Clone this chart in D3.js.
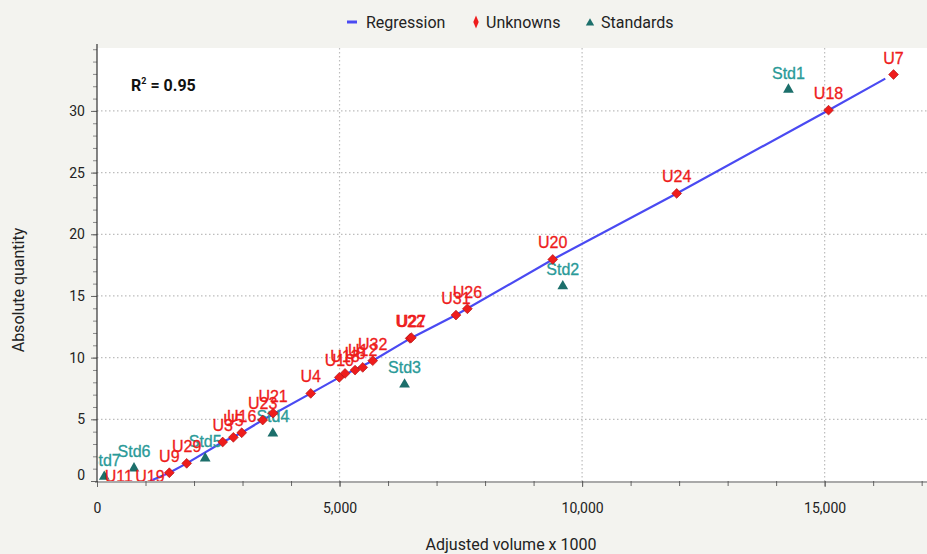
<!DOCTYPE html>
<html><head><meta charset="utf-8">
<script src="https://cdn.jsdelivr.net/npm/d3@7"></script>
<style>
html,body{margin:0;padding:0;background:#f3f3ef;}
svg{display:block;}
</style></head>
<body>
<svg id="chart" width="927" height="554"></svg>
<script>
// ---- data ----
const unkNames = ["U7","U18","U24","U20","U26","U31","U22","U27","U32","U12","U8","U13","U10","U4","U21","U23","U16","U5","U3","U29","U9","U11","U19"];
const unkX = [16420,15080,11950,9395,7635,7400,6455,6480,5684,5478,5320,5113,4995,4406,3630,3416,2983,2811,2591,1849,1491,450,1090];
const unkY = [32.95,30.06,23.31,17.96,13.96,13.45,11.56,11.62,9.75,9.21,8.99,8.72,8.40,7.10,5.50,4.94,3.91,3.54,3.16,1.43,0.67,-1.0,-1.0];

const stdNames = ["Std1","Std2","Std3","Std4","Std5","Std6","Std7"];
const stdX = [14254,9602,6340,3625,2230,763,150];
const stdY = [31.73,15.80,7.83,3.86,1.84,1.03,0.35];

const regX = [1093,1491,1849,2591,2983,3416,4406,4995,5684,6468,7400,9395,11950,15080,16250];
const regY = [0,0.67,1.43,3.16,3.91,4.94,7.10,8.40,9.75,11.58,13.45,17.96,23.31,30.06,32.62];

const xTicks = [0,5000,10000,15000];
const yTicks = [0,5,10,15,20,25,30];
const r2Text = "0.95";

// ---- layout ----
const svg = d3.select("#chart");
const L = 97, R = 927, T = 48, B = 481;
const x = d3.scaleLinear().domain([0,17110]).range([L,R]);
const y = d3.scaleLinear().domain([0,35.1]).range([B,T]);

const font = "Roboto, 'Liberation Sans', sans-serif";
const lblFont = "'Liberation Sans', Arial, sans-serif";
const red = "#ee1c1c", teal = "#2a9a98", tealDark = "#1c6f6b", blue = "#4a4af2";

svg.append("rect").attr("x",L).attr("y",T).attr("width",R-L).attr("height",B-T+2).attr("fill","#ffffff");

// grid
const grid = svg.append("g");
grid.selectAll("line.gx").data(xTicks.filter(d=>d>0)).join("line")
  .attr("x1",d=>x(d)).attr("x2",d=>x(d)).attr("y1",T).attr("y2",B)
  .attr("stroke","#bdbdbd").attr("stroke-width",1.2).attr("stroke-dasharray","1.5,2.5");
grid.selectAll("line.gy").data(yTicks.filter(d=>d>0)).join("line")
  .attr("x1",L).attr("x2",R).attr("y1",d=>y(d)).attr("y2",d=>y(d))
  .attr("stroke","#bdbdbd").attr("stroke-width",1.2).attr("stroke-dasharray","1.5,2.5");

// axes
const yMinor = d3.range(0,36,1);
svg.append("g").attr("transform",`translate(${L},0)`)
  .call(d3.axisLeft(y).tickValues(yMinor).tickSize(4).tickFormat(""))
  .call(g=>g.select(".domain").remove())
  .call(g=>g.selectAll("line").attr("stroke","#8a8a8a"));
svg.append("g").attr("transform",`translate(${L},0)`)
  .call(d3.axisLeft(y).tickValues(yTicks).tickSize(6).tickPadding(6))
  .call(g=>g.select(".domain").remove())
  .call(g=>g.selectAll("line").attr("stroke","#666"))
  .call(g=>g.selectAll("text").attr("font-family",font).attr("font-size",14).attr("fill","#222")
     .attr("dy",d=>d===0?"-0.1em":"0.32em"));

const xMinor = d3.range(0,17001,1000);
svg.append("g").attr("transform",`translate(0,${B})`)
  .call(d3.axisBottom(x).tickValues(xMinor).tickSize(5).tickFormat(""))
  .call(g=>g.select(".domain").remove())
  .call(g=>g.selectAll("line").attr("stroke","#666"));
svg.append("g").attr("transform",`translate(0,${B})`)
  .call(d3.axisBottom(x).tickValues(xTicks).tickSize(6).tickPadding(16).tickFormat(d3.format(",")))
  .call(g=>g.select(".domain").remove())
  .call(g=>g.selectAll("line").attr("stroke","#666"))
  .call(g=>g.selectAll("text").attr("font-family",font).attr("font-size",14).attr("fill","#222"));

svg.append("line").attr("x1",L).attr("x2",L).attr("y1",T-4).attr("y2",B+1).attr("stroke","#333").attr("stroke-width",1.2);
svg.append("line").attr("x1",L-2).attr("x2",R).attr("y1",B+1).attr("y2",B+1).attr("stroke","#555").attr("stroke-width",1.2);

// clip
svg.append("clipPath").attr("id","clip").append("rect").attr("x",L+1).attr("y",T).attr("width",R-L).attr("height",B-T);
const plot = svg.append("g").attr("clip-path","url(#clip)");

// regression
const regPts = regX.map((d,i)=>[d,regY[i]]);
plot.append("path").datum(regPts)
  .attr("d",d3.line().x(d=>x(d[0])).y(d=>y(d[1])))
  .attr("fill","none").attr("stroke",blue).attr("stroke-width",2.2);

// standards
const stds = stdNames.map((n,i)=>({n,x:stdX[i],y:stdY[i]}));
const tri = d3.symbol().type(d3.symbolTriangle).size(50);
plot.selectAll("path.std").data(stds).join("path")
  .attr("transform",d=>`translate(${x(d.x)},${y(d.y)})`).attr("d",tri)
  .attr("fill",tealDark);
plot.selectAll("text.std").data(stds).join("text")
  .attr("x",d=>x(d.x)).attr("y",d=>y(d.y)-11).attr("text-anchor","middle")
  .attr("font-family",lblFont).attr("font-size",16).attr("fill",teal)
  .attr("stroke",teal).attr("stroke-width",0.3).text(d=>d.n);

// unknowns
const unks = unkNames.map((n,i)=>({n,x:unkX[i],y:unkY[i]}));
const dia = d3.symbol().type(d3.symbolSquare).size(48);
plot.selectAll("path.unk").data(unks).join("path")
  .attr("transform",d=>`translate(${x(d.x)},${y(d.y)}) rotate(45)`).attr("d",dia)
  .attr("fill",red).attr("stroke","#b01010").attr("stroke-width",0.6);
plot.selectAll("text.unk").data(unks).join("text")
  .attr("x",d=>x(d.x)).attr("y",d=>y(d.y)-11).attr("text-anchor","middle")
  .attr("font-family",lblFont).attr("font-size",16).attr("fill",red)
  .attr("stroke",red).attr("stroke-width",0.3).text(d=>d.n);

// R^2
const r2 = svg.append("text").attr("x",131).attr("y",91).attr("font-family",font).attr("font-size",16).attr("font-weight","bold").attr("fill","#111");
r2.append("tspan").text("R");
r2.append("tspan").attr("dy",-7).attr("font-size",9).text("2");
r2.append("tspan").attr("dy",7).text(" = " + r2Text);

// axis titles
svg.append("text").attr("transform","translate(24,290) rotate(-90)").attr("text-anchor","middle")
  .attr("font-family",font).attr("font-size",16).attr("fill","#222").text("Absolute quantity");
svg.append("text").attr("x",511).attr("y",550).attr("text-anchor","middle")
  .attr("font-family",font).attr("font-size",16).attr("fill","#222").text("Adjusted volume x 1000");

// legend
const lg = svg.append("g").attr("font-family",font).attr("font-size",16).attr("fill","#222");
lg.append("line").attr("x1",347).attr("x2",357).attr("y1",22).attr("y2",22).attr("stroke",blue).attr("stroke-width",3);
lg.append("text").attr("x",366).attr("y",28).text("Regression");
lg.append("path").attr("transform","translate(476,22) scale(0.8,1.1)").attr("d",d3.symbol().type(d3.symbolDiamond).size(40)).attr("fill",red);
lg.append("text").attr("x",486).attr("y",28).text("Unknowns");
lg.append("path").attr("transform","translate(590,23)").attr("d",d3.symbol().type(d3.symbolTriangle).size(30)).attr("fill",tealDark);
lg.append("text").attr("x",601).attr("y",28).text("Standards");
</script>
</body></html>
